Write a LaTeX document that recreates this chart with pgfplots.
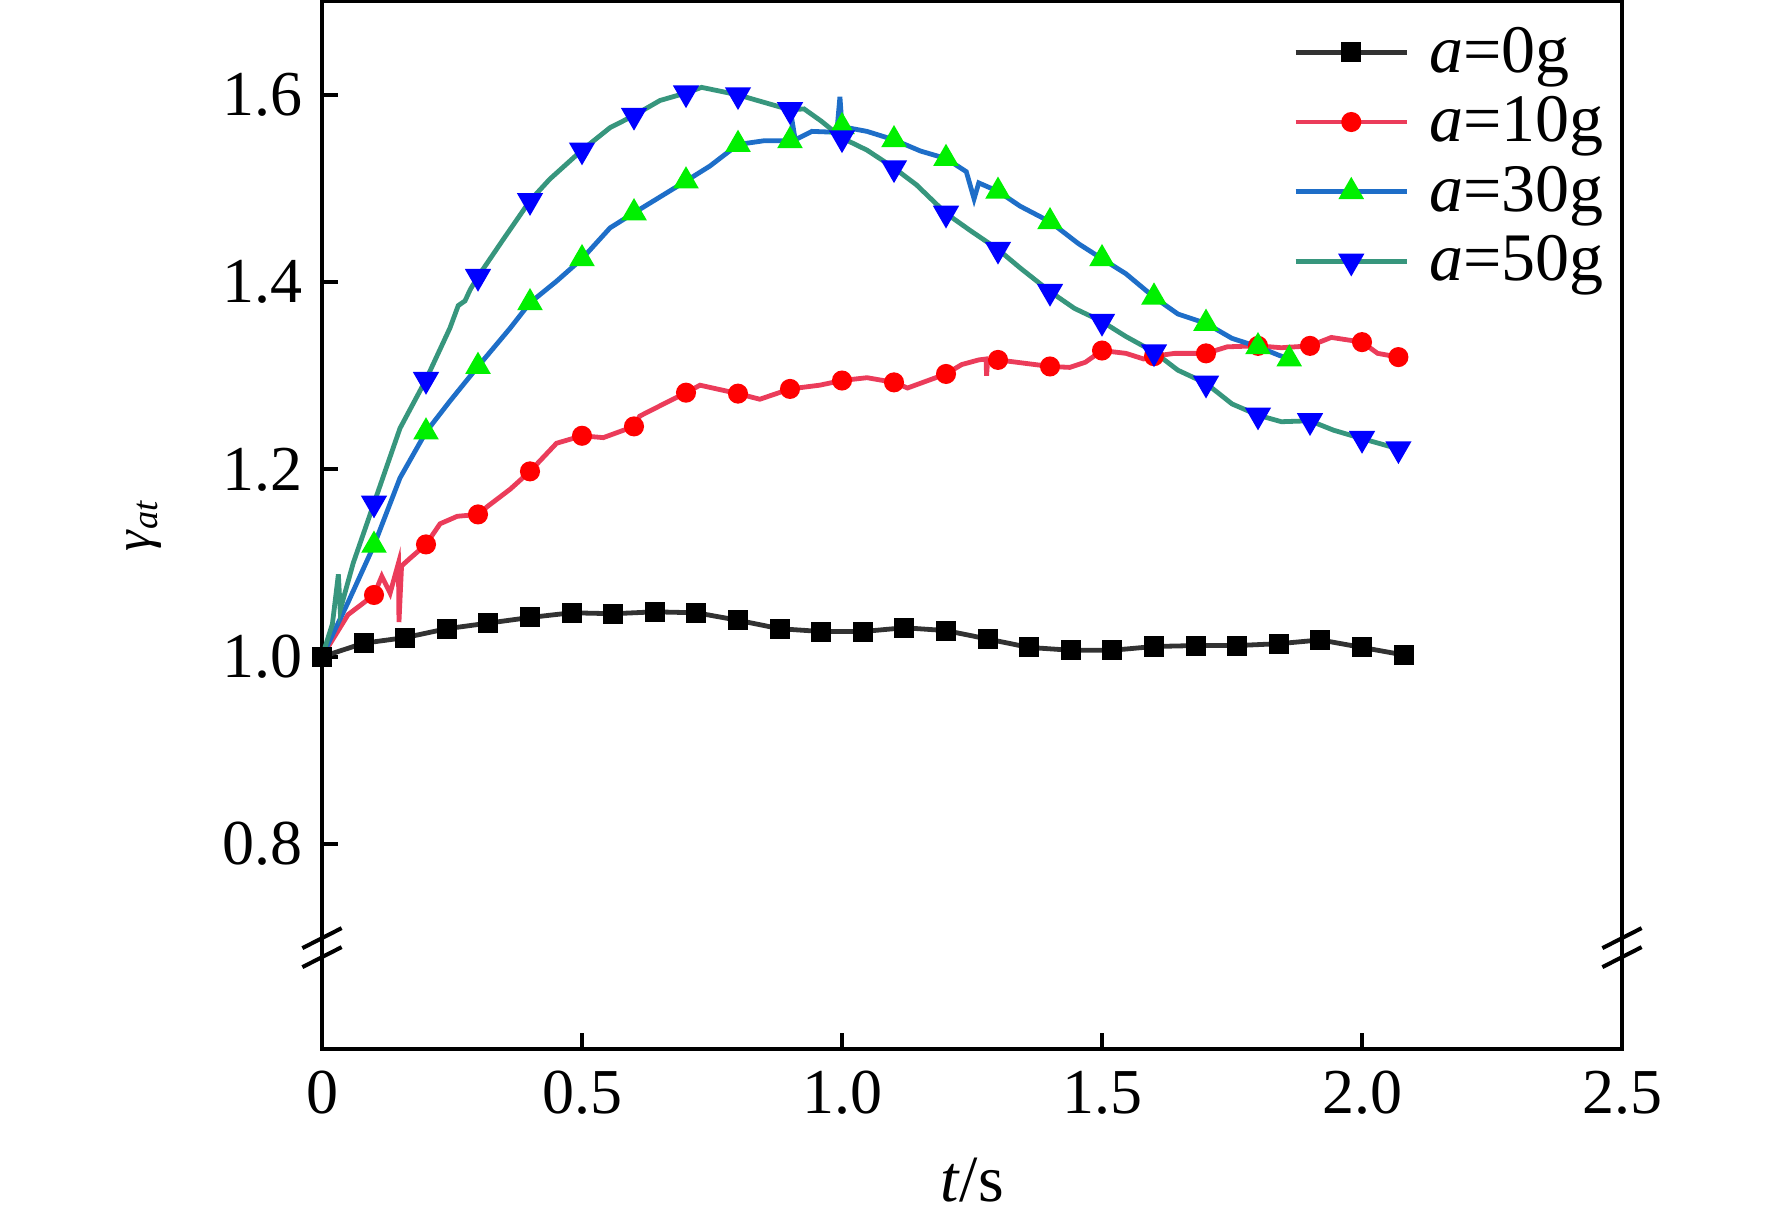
\documentclass[border=0pt]{standalone}
\usepackage{pgfplots}
\pgfplotsset{compat=1.18}
\usepackage{fontspec}
\setmainfont{Liberation Serif}
\definecolor{cK}{RGB}{50,50,50}
\definecolor{cR}{RGB}{235,60,90}
\definecolor{cB}{RGB}{30,110,200}
\definecolor{cT}{RGB}{55,150,125}
\definecolor{mR}{RGB}{255,0,0}
\definecolor{mG}{RGB}{0,240,0}
\definecolor{mB}{RGB}{0,0,255}
\begin{document}
\begin{tikzpicture}
\begin{axis}[
  name=ax,
  scale only axis, width=325pt, height=262pt,
  xmin=0, xmax=2.5, ymin=0.581, ymax=1.7,
  axis line style={line width=1.1pt},
  tick align=inside, xtick pos=left, ytick pos=left,
  major tick length=4pt,
  tick style={line width=1pt, black},
  xtick={0,0.5,1,1.5,2,2.5}, xticklabels={0,0.5,1.0,1.5,2.0,2.5},
  ytick={0.8,1,1.2,1.4,1.6}, yticklabels={0.8,1.0,1.2,1.4,1.6},
  ticklabel style={font=\fontsize{16}{19}\selectfont},
  xticklabel style={yshift=-2pt},
  yticklabel style={xshift=-1.4pt},
  xlabel={\textit{t}/s},
  ylabel={\textit{γ}\textsubscript{\textit{at}}},
  xlabel style={at={(axis description cs:0.5,0)}, anchor=base, yshift=-38pt, font=\fontsize{16.5}{19}\selectfont},
  ylabel style={at={(axis description cs:-0.137,0.5)}, anchor=center, font=\fontsize{13}{15}\selectfont},
  legend cell align=left,
  legend style={draw=none, fill=none, at={(0.7465,0.984)}, anchor=north west,
    font=\fontsize{17}{20}\selectfont, row sep=0.6pt, inner sep=0pt,
    /tikz/every odd column/.append style={column sep=3pt}},
  legend image code/.code={\draw[#1, mark indices={2}] plot coordinates {(0pt,0pt) (13.9pt,0pt) (27.8pt,0pt)};},
  every axis plot/.append style={line width=1.2pt},
]
\addplot[cK, mark=square*, mark size=1.9pt, mark options={solid, fill=black, draw=black}] coordinates {
(0,1.000) (0.08,1.0145) (0.16,1.0205) (0.24,1.030) (0.32,1.036) (0.40,1.042)
(0.48,1.047) (0.56,1.046) (0.64,1.048) (0.72,1.047) (0.80,1.039) (0.88,1.030)
(0.96,1.027) (1.04,1.027) (1.12,1.031) (1.20,1.028) (1.28,1.019) (1.36,1.010)
(1.44,1.007) (1.52,1.007) (1.60,1.011) (1.68,1.012) (1.76,1.012) (1.84,1.014)
(1.92,1.018) (2.00,1.010) (2.08,1.002)};
\addlegendentry{\textit{a}=0g}
\addplot[cR, mark=*, mark size=1.9pt, mark options={solid, fill=mR, draw=mR},
  mark indices={3,10,13,16,18,20,23,25,27,29,31,33,39,41,44,47,49,51,53,55,57}] coordinates {
(0,1.000) (0.05,1.045) (0.1,1.066) (0.115,1.086) (0.131,1.068) (0.147,1.100)
(0.148,1.037) (0.153,1.097) (0.169,1.105) (0.2,1.120) (0.227,1.142) (0.26,1.150)
(0.3,1.152) (0.317,1.160) (0.362,1.179) (0.4,1.198) (0.451,1.228) (0.5,1.236)
(0.541,1.234) (0.6,1.246) (0.611,1.257) (0.65,1.268) (0.7,1.282) (0.727,1.290)
(0.8,1.281) (0.842,1.275) (0.9,1.286) (0.957,1.290) (1.0,1.295) (1.048,1.298)
(1.1,1.293) (1.126,1.287) (1.2,1.302) (1.23,1.312) (1.263,1.317) (1.277,1.318)
(1.278,1.300) (1.28,1.316) (1.3,1.317) (1.343,1.314) (1.4,1.310) (1.438,1.309)
(1.468,1.3145) (1.5,1.327) (1.546,1.324) (1.58,1.318) (1.6,1.321) (1.64,1.324)
(1.7,1.324) (1.741,1.331) (1.8,1.332) (1.845,1.330) (1.9,1.332) (1.941,1.341)
(2.0,1.336) (2.03,1.324) (2.07,1.320)};
\addlegendentry{\textit{a}=10g}
\addplot[cB, mark=triangle*, mark size=2.5pt, mark options={solid, fill=mG, draw=mG},
  mark indices={3,5,7,9,11,13,15,17,19,25,27,29,33,35,37,39,41,43,45}] coordinates {
(0,1.000) (0.05,1.058) (0.1,1.119) (0.15,1.191) (0.2,1.240) (0.246,1.273)
(0.3,1.310) (0.362,1.351) (0.4,1.378) (0.451,1.401) (0.5,1.425) (0.554,1.458)
(0.6,1.474) (0.65,1.491) (0.7,1.508) (0.746,1.524) (0.8,1.547) (0.85,1.551)
(0.9,1.551) (0.905,1.569) (0.91,1.552) (0.942,1.561) (0.99,1.560) (0.996,1.598)
(1.0,1.566) (1.048,1.561) (1.1,1.552) (1.151,1.540) (1.2,1.532) (1.239,1.518)
(1.254,1.489) (1.263,1.506) (1.3,1.497) (1.343,1.481) (1.4,1.4645) (1.455,1.441)
(1.5,1.425) (1.546,1.409) (1.6,1.384) (1.646,1.366) (1.7,1.356) (1.75,1.340)
(1.8,1.331) (1.84,1.322) (1.86,1.318)};
\addlegendentry{\textit{a}=30g}
\addplot[cT, mark=triangle*, mark size=2.6pt, mark options={solid, fill=mB, draw=mB, rotate=180},
  mark indices={6,8,13,15,17,19,21,23,25,28,30,32,34,36,38,40,42,44,46,48,49}] coordinates {
(0,1.000) (0.02,1.035) (0.0315,1.088) (0.035,1.050) (0.06,1.100) (0.1,1.164)
(0.15,1.244) (0.2,1.296) (0.246,1.351) (0.262,1.375) (0.275,1.380) (0.285,1.392)
(0.3,1.406) (0.349,1.446) (0.4,1.487) (0.438,1.510) (0.5,1.541) (0.554,1.565)
(0.6,1.578) (0.65,1.594) (0.7,1.602) (0.73,1.608) (0.8,1.600) (0.85,1.592)
(0.9,1.584) (0.927,1.585) (0.96,1.572) (1.0,1.554) (1.048,1.541) (1.1,1.522)
(1.143,1.504) (1.2,1.4735) (1.247,1.455) (1.3,1.435) (1.343,1.415) (1.4,1.390)
(1.447,1.372) (1.5,1.358) (1.546,1.342) (1.6,1.3255) (1.646,1.306) (1.7,1.292)
(1.75,1.270) (1.8,1.258) (1.845,1.251) (1.9,1.252) (1.945,1.242) (2.0,1.233)
(2.07,1.222)};
\addlegendentry{\textit{a}=50g}
\coordinate (bl) at (axis cs:0,0.69);
\coordinate (br) at (axis cs:2.5,0.69);
\end{axis}
\foreach \p in {bl,br}{
  \draw[line width=1pt] ([shift={(-4.9pt,-0.25pt)}]\p) -- ++(9.8pt,5pt);
  \draw[line width=1pt] ([shift={(-4.9pt,-5pt)}]\p) -- ++(9.8pt,5pt);
}
\pgfresetboundingbox
\path[use as bounding box] ([shift={(-80.5pt,-43.5pt)}]ax.south west) rectangle ([shift={(37.5pt,0.3pt)}]ax.north east);
\end{tikzpicture}
\end{document}
